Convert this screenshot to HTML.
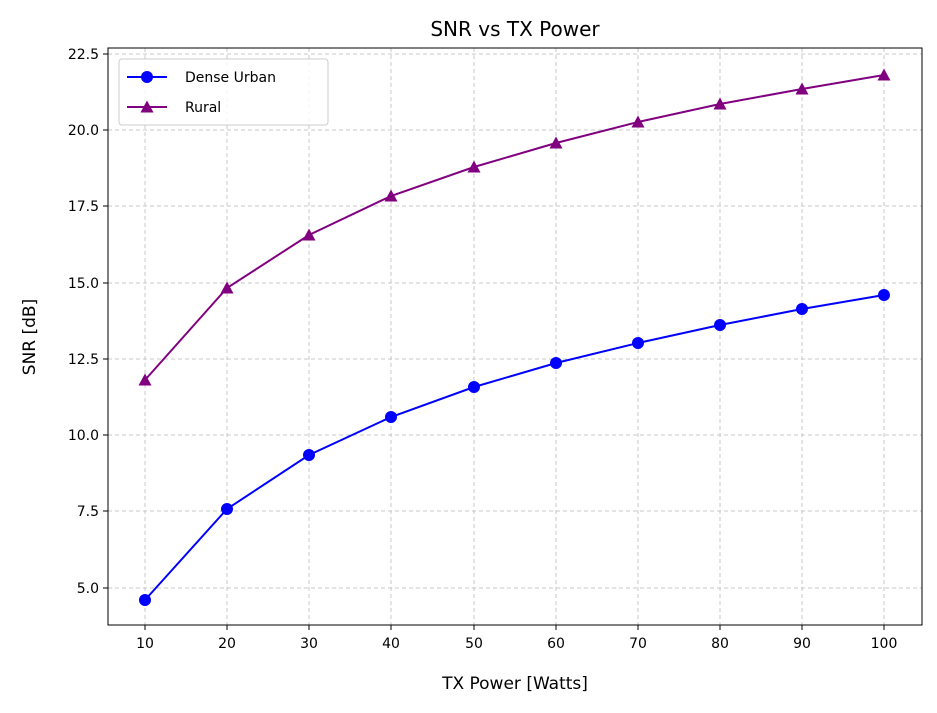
<!DOCTYPE html>
<html><head><meta charset="utf-8"><style>
html,body{margin:0;padding:0;background:#fff;}
svg text{font-family:"DejaVu Sans","Liberation Sans",sans-serif;fill:#000;}
</style></head><body>
<svg width="937" height="708" viewBox="0 0 937 708" xmlns="http://www.w3.org/2000/svg">
<rect width="937" height="708" fill="#fff"/>
<g stroke="#c8c8c8" stroke-width="1" stroke-dasharray="4,3">
<line x1="145" y1="48" x2="145" y2="625"/><line x1="227" y1="48" x2="227" y2="625"/><line x1="309" y1="48" x2="309" y2="625"/><line x1="391" y1="48" x2="391" y2="625"/><line x1="474" y1="48" x2="474" y2="625"/><line x1="556" y1="48" x2="556" y2="625"/><line x1="638" y1="48" x2="638" y2="625"/><line x1="720" y1="48" x2="720" y2="625"/><line x1="802" y1="48" x2="802" y2="625"/><line x1="884" y1="48" x2="884" y2="625"/>
<line x1="108" y1="54" x2="922" y2="54"/><line x1="108" y1="130" x2="922" y2="130"/><line x1="108" y1="206" x2="922" y2="206"/><line x1="108" y1="283" x2="922" y2="283"/><line x1="108" y1="359" x2="922" y2="359"/><line x1="108" y1="435" x2="922" y2="435"/><line x1="108" y1="511" x2="922" y2="511"/><line x1="108" y1="588" x2="922" y2="588"/>
</g>
<rect x="108" y="48" width="814" height="577" fill="none" stroke="#000" stroke-width="1"/>
<g stroke="#000" stroke-width="1">
<line x1="145" y1="625" x2="145" y2="630"/><line x1="227" y1="625" x2="227" y2="630"/><line x1="309" y1="625" x2="309" y2="630"/><line x1="391" y1="625" x2="391" y2="630"/><line x1="474" y1="625" x2="474" y2="630"/><line x1="556" y1="625" x2="556" y2="630"/><line x1="638" y1="625" x2="638" y2="630"/><line x1="720" y1="625" x2="720" y2="630"/><line x1="802" y1="625" x2="802" y2="630"/><line x1="884" y1="625" x2="884" y2="630"/>
<line x1="103" y1="54" x2="108" y2="54"/><line x1="103" y1="130" x2="108" y2="130"/><line x1="103" y1="206" x2="108" y2="206"/><line x1="103" y1="283" x2="108" y2="283"/><line x1="103" y1="359" x2="108" y2="359"/><line x1="103" y1="435" x2="108" y2="435"/><line x1="103" y1="511" x2="108" y2="511"/><line x1="103" y1="588" x2="108" y2="588"/>
</g>
<g font-size="14" text-anchor="middle">
<text x="145" y="648">10</text><text x="227" y="648">20</text><text x="309" y="648">30</text><text x="391" y="648">40</text><text x="474" y="648">50</text><text x="556" y="648">60</text><text x="638" y="648">70</text><text x="720" y="648">80</text><text x="802" y="648">90</text><text x="884" y="648">100</text>
</g>
<g font-size="14" text-anchor="end">
<text x="99" y="59">22.5</text><text x="99" y="135">20.0</text><text x="99" y="211">17.5</text><text x="99" y="288">15.0</text><text x="99" y="364">12.5</text><text x="99" y="440">10.0</text><text x="99" y="516">7.5</text><text x="99" y="593">5.0</text>
</g>
<text x="515" y="689" font-size="17" text-anchor="middle">TX Power [Watts]</text>
<text x="35" y="337" font-size="17" text-anchor="middle" transform="rotate(-90 35 337)">SNR [dB]</text>
<text x="515" y="36" font-size="20" text-anchor="middle">SNR vs TX Power</text>
<polyline fill="none" stroke="#0000ff" stroke-width="2" points="145,600 227,509 309,455 391,417 474,387 556,363 638,343 720,325 802,309 884,295"/>
<g fill="#0000ff">
<circle cx="145" cy="600" r="6"/><circle cx="227" cy="509" r="6"/><circle cx="309" cy="455" r="6"/><circle cx="391" cy="417" r="6"/><circle cx="474" cy="387" r="6"/><circle cx="556" cy="363" r="6"/><circle cx="638" cy="343" r="6"/><circle cx="720" cy="325" r="6"/><circle cx="802" cy="309" r="6"/><circle cx="884" cy="295" r="6"/>
</g>
<polyline fill="none" stroke="#800080" stroke-width="2" points="145,380 227,288 309,235 391,196 474,167 556,143 638,122 720,104 802,89 884,75"/>
<g fill="#800080">
<polygon points="145,373.5 151.5,385.5 138.5,385.5"/><polygon points="227,281.5 233.5,293.5 220.5,293.5"/><polygon points="309,228.5 315.5,240.5 302.5,240.5"/><polygon points="391,189.5 397.5,201.5 384.5,201.5"/><polygon points="474,160.5 480.5,172.5 467.5,172.5"/><polygon points="556,136.5 562.5,148.5 549.5,148.5"/><polygon points="638,115.5 644.5,127.5 631.5,127.5"/><polygon points="720,97.5 726.5,109.5 713.5,109.5"/><polygon points="802,82.5 808.5,94.5 795.5,94.5"/><polygon points="884,68.5 890.5,80.5 877.5,80.5"/>
</g>
<rect x="119" y="59" width="209" height="66" rx="3" fill="#fff" fill-opacity="0.8" stroke="#ccc" stroke-width="1"/>
<line x1="127" y1="77" x2="167" y2="77" stroke="#0000ff" stroke-width="2"/><circle cx="147" cy="77" r="6" fill="#0000ff"/>
<text x="185" y="82" font-size="14">Dense Urban</text>
<line x1="127" y1="107" x2="167" y2="107" stroke="#800080" stroke-width="2"/><polygon points="147,100.5 153.5,112.5 140.5,112.5" fill="#800080"/>
<text x="185" y="112" font-size="14">Rural</text>
</svg>
</body></html>
